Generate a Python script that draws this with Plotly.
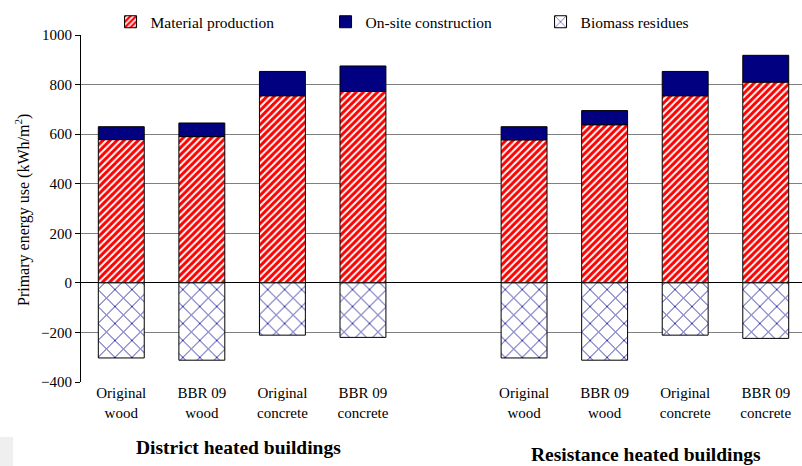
import plotly.graph_objects as go

# Building variants within each heating group
variants = ["Original<br>wood", "BBR 09<br>wood", "Original<br>concrete", "BBR 09<br>concrete"]
groups = ["District heated buildings", "Resistance heated buildings"]

# Primary energy use, kWh/m2 (district heated, then resistance heated)
material_production = [578, 590, 755, 772, 577, 638, 755, 810]
onsite_construction = [52, 55, 98, 103, 53, 57, 98, 108]
biomass_residues = [-303, -312, -211, -220, -303, -312, -211, -224]

y_ticks = [-400, -200, 0, 200, 400, 600, 800, 1000]

# slot positions: four bars per group, one empty slot between groups
positions = []
labels = []
for g in range(len(groups)):
    for i, v in enumerate(variants):
        positions.append(g * (len(variants) + 1) + i)
        labels.append(v)

FONT = "Liberation Serif"
outline = dict(color="black", width=1)

fig = go.Figure()
fig.add_trace(go.Bar(
    x=positions, y=material_production, name="Material production",
    marker=dict(color="white", line=outline,
                pattern=dict(shape="/", fgcolor="#ff0000", bgcolor="white",
                             fgopacity=1, size=5, solidity=0.6)),
    width=0.57,
))
fig.add_trace(go.Bar(
    x=positions, y=onsite_construction, name="On-site construction",
    marker=dict(color="#000080", line=outline),
    width=0.57,
))
fig.add_trace(go.Bar(
    x=positions, y=biomass_residues, name="Biomass residues",
    marker=dict(color="white", line=outline,
                pattern=dict(shape="x", fgcolor="#2a2aa0", bgcolor="white",
                             fgopacity=1, size=12, solidity=0.15)),
    width=0.57,
))

fig.update_layout(
    width=802, height=466,
    margin=dict(l=81, r=0, t=35, b=84),
    barmode="relative",
    plot_bgcolor="white", paper_bgcolor="white",
    font=dict(family=FONT, size=15, color="black"),
    showlegend=True,
    legend=dict(orientation="h", x=0.041, y=1.037, xanchor="left", yanchor="middle",
                bgcolor="rgba(0,0,0,0)", font=dict(size=15.5, family=FONT),
                entrywidth=170, entrywidthmode="pixels", traceorder="normal"),
    xaxis=dict(range=[-0.5, 8.45], tickvals=positions, ticktext=labels,
               showgrid=False, zeroline=False, showline=False, ticks="",
               tickfont=dict(size=15, family=FONT), tickangle=0),
    yaxis=dict(range=[-400, 1000], tickvals=y_ticks, showgrid=True,
               gridcolor="#808080", gridwidth=1, zeroline=True,
               zerolinecolor="black", zerolinewidth=1,
               showline=True, linecolor="black", linewidth=1,
               ticks="outside", ticklen=5, tickcolor="black",
               tickfont=dict(size=15, family=FONT)),
    shapes=[dict(type="rect", xref="paper", yref="paper", layer="below",
                 x0=-81 / 721, x1=-68 / 721, y0=-84 / 347, y1=-55 / 347,
                 fillcolor="#efefef", line=dict(width=0))],
)

# Y-axis title
fig.add_annotation(
    text="Primary energy use (kWh/m<sup>2</sup>)", textangle=-90,
    xref="paper", yref="paper", x=-59 / 721, y=(382 - 210) / 347,
    xanchor="center", yanchor="middle", showarrow=False,
    font=dict(size=16, family=FONT),
)

# Group labels under each set of bars
group_centers = [238, 646]
group_offsets = [447, 455]
for name, cx, cy in zip(groups, group_centers, group_offsets):
    fig.add_annotation(
        text="<b>" + name + "</b>", xref="paper", yref="paper",
        x=(cx - 81) / 721, y=-(cy - 382) / 347,
        xanchor="center", yanchor="middle", showarrow=False,
        font=dict(size=19.5, family=FONT),
    )

fig.write_html("out.html")
